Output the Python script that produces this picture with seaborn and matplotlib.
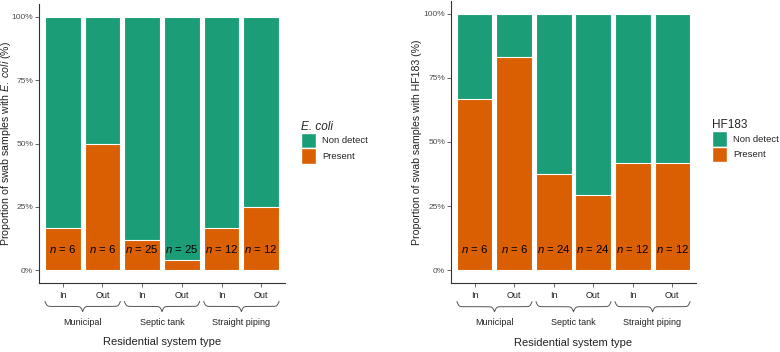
import numpy as np
import pandas as pd
import seaborn as sns
import matplotlib.pyplot as plt
from matplotlib.patches import Patch
import matplotlib.transforms as mtransforms

groups = ["Municipal", "Septic tank", "Straight piping"]
sides = ["In", "Out"]
ecoli_n = [6, 6, 25, 25, 12, 12]
ecoli_present = [1, 3, 3, 1, 2, 3]
hf_n = [6, 6, 24, 24, 12, 12]
hf_present = [4, 5, 9, 7, 5, 5]

green = "#1B9E77"
orange = "#D95F02"

sns.set_theme(style="ticks")
plt.rcParams["font.family"] = ["Liberation Sans", "DejaVu Sans"]
plt.rcParams["mathtext.fontset"] = "custom"
plt.rcParams["mathtext.it"] = "Liberation Sans:italic"
plt.rcParams["mathtext.rm"] = "Liberation Sans"


def brace(ax, x0, x1, ytop, depth):
    # curly brace under a pair of bars, x in data, y in axes fraction
    xs = np.linspace(x0, x1, 201)
    half = xs[:101]
    beta = 40.0
    yh = 1 / (1 + np.exp(-beta * (half - half[0]))) + 1 / (1 + np.exp(-beta * (half - half[-1])))
    ys = np.concatenate([yh, yh[-2::-1]])
    ys = ytop - (ys - 0.5) * depth
    trans = mtransforms.blended_transform_factory(ax.transData, ax.transAxes)
    ax.plot(xs, ys, color="#555555", lw=0.7, transform=trans, clip_on=False)


def panel(ax, n, present, ylabel, title, title_style):
    keys = [f"{g} {s}" for g in groups for s in sides]
    df = pd.DataFrame({"key": keys, "total": [1.0] * 6,
                       "present": [p / k for p, k in zip(present, n)]})
    sns.barplot(data=df, x="key", y="total", order=keys, color=green, width=0.9,
                edgecolor="white", linewidth=0.8, saturation=1, ax=ax)
    sns.barplot(data=df, x="key", y="present", order=keys, color=orange, width=0.9,
                edgecolor="white", linewidth=0.8, saturation=1, ax=ax)
    for i, k in enumerate(n):
        ax.text(i, 0.083, f"$n$ = {k}", ha="center", va="center", fontsize=8.2,
                color="black")
    ax.set_xlim(-0.6, 5.6)
    ax.set_ylim(-0.05, 1.05)
    ax.set_yticks([0, 0.25, 0.5, 0.75, 1.0])
    ax.set_yticklabels(["0%", "25%", "50%", "75%", "100%"])
    ax.set_xticks(range(6))
    ax.set_xticklabels(sides * 3)
    ax.tick_params(axis="y", labelsize=6, colors="#4D4D4D", length=3, width=0.6, pad=1.2)
    ax.tick_params(axis="x", labelsize=6.5, labelcolor="#222222", color="#4D4D4D",
                   length=3, width=0.6, pad=2.5)
    for s in ["left", "bottom"]:
        ax.spines[s].set_color("#333333")
        ax.spines[s].set_linewidth(0.8)
    sns.despine(ax=ax)
    for j, g in enumerate(groups):
        brace(ax, 2 * j - 0.45, 2 * j + 1.45, -0.066, 0.036)
        ax.text(2 * j + 0.5, -0.14, g, ha="center", va="center", fontsize=6.5,
                color="#222222", transform=mtransforms.blended_transform_factory(
                    ax.transData, ax.transAxes))
    ax.set_xlabel("Residential system type", fontsize=8, color="#222222")
    ax.xaxis.set_label_coords(0.5, -0.195)
    ax.set_ylabel(ylabel, fontsize=7.6, color="#222222")
    handles = [Patch(facecolor=green, edgecolor="white", label="Non detect"),
               Patch(facecolor=orange, edgecolor="white", label="Present")]
    leg = ax.legend(handles=handles, loc="upper left", bbox_to_anchor=(1.05, 0.595),
                    frameon=False, fontsize=6.8, title=title, handlelength=1.6,
                    handleheight=2.15, labelspacing=0.0, handletextpad=0.6,
                    borderaxespad=0, alignment="left")
    leg.get_title().set_fontsize(8.5)
    leg.get_title().set_fontstyle(title_style)


fig = plt.figure(figsize=(7.8, 3.52), dpi=100)
ax1 = fig.add_axes([39 / 780, 69 / 352, 246 / 780, 279 / 352])
ax2 = fig.add_axes([451 / 780, 69 / 352, 245 / 780, 282 / 352])

panel(ax1, ecoli_n, ecoli_present,
      r"Proportion of swab samples with $\mathit{E.\ coli}$ (%)", "E. coli", "italic")
panel(ax2, hf_n, hf_present,
      "Proportion of swab samples with HF183 (%)", "HF183", "normal")
ax1.yaxis.set_label_coords(-0.105, 0.5)
ax2.yaxis.set_label_coords(-0.12, 0.5)

fig.savefig("out.png", dpi=100)
